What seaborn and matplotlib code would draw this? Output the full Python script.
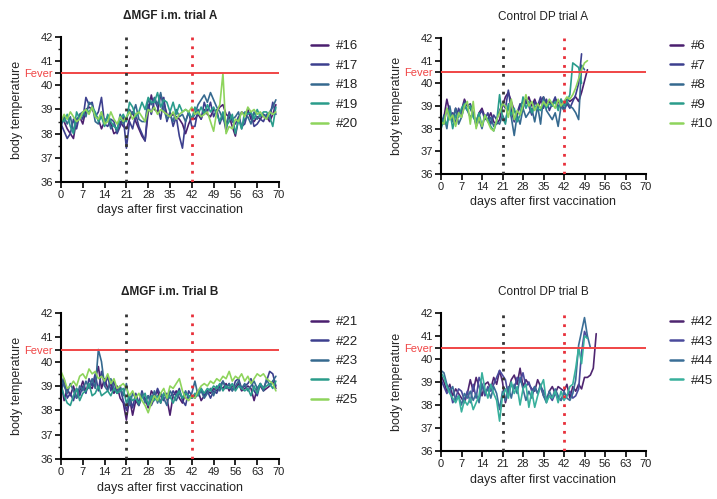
import numpy as np
import pandas as pd
import matplotlib
matplotlib.use("Agg")
import matplotlib.pyplot as plt
import seaborn as sns

# ---- data (daily body temperature) ----
# dMGF i.m. trial A, days 0-69
p16 = [38.7, 38.5, 38.2, 38.0, 37.8, 38.6, 38.7, 38.4, 39.0, 39.1,
       39.0, 38.8, 38.6, 38.2, 38.5, 38.7, 38.4, 38.0, 38.1, 38.5,
       38.3, 38.2, 38.6, 38.9, 38.5, 38.2, 37.9, 37.7, 38.9, 39.6,
       39.0, 38.9, 39.6, 39.3, 38.8, 38.7, 38.8, 38.7, 38.6, 38.4,
       38.0, 38.4, 38.7, 38.6, 38.8, 38.6, 39.0, 38.8, 38.7, 39.0,
       38.9, 39.1, 39.2, 38.8, 38.7, 38.3, 37.9, 38.6, 38.9, 38.8,
       39.0, 38.6, 38.5, 38.7, 38.6, 38.8, 38.7, 38.5, 38.8, 39.2]
p17 = [38.4, 38.1, 37.8, 38.0, 38.6, 38.2, 38.8, 38.6, 39.5, 39.2,
       39.3, 38.7, 38.9, 39.5, 38.4, 38.3, 38.6, 38.5, 38.0, 38.3,
       38.7, 37.4, 38.5, 38.2, 38.8, 38.3, 38.0, 37.7, 39.2, 38.8,
       39.4, 39.1, 38.6, 39.5, 38.5, 38.9, 38.3, 38.7, 37.9, 37.4,
       38.5, 38.9, 38.3, 38.3, 39.0, 38.6, 39.3, 38.9, 39.3, 38.7,
       39.0, 38.4, 38.8, 38.1, 38.9, 38.5, 38.4, 38.7, 38.3, 38.4,
       38.9, 38.8, 38.3, 38.4, 38.6, 38.5, 38.8, 38.6, 39.3, 38.8]
p18 = [38.3, 38.7, 38.4, 38.7, 38.1, 38.5, 38.8, 38.9, 38.7, 39.3,
       39.2, 38.5, 38.4, 38.9, 38.5, 38.7, 38.2, 38.4, 38.1, 38.8,
       38.4, 38.6, 39.0, 38.8, 39.2, 38.6, 38.5, 38.5, 39.4, 39.2,
       39.5, 39.2, 39.7, 39.0, 38.6, 38.8, 38.5, 39.0, 38.7, 38.8,
       38.5, 38.9, 38.6, 38.8, 39.2, 39.4, 39.6, 39.3, 39.7, 39.4,
       39.1, 38.9, 38.6, 38.4, 38.8, 38.6, 38.7, 38.9, 38.2, 38.6,
       38.7, 38.4, 38.9, 38.6, 38.8, 38.8, 38.7, 38.9, 39.1, 39.4]
p19 = [38.6, 38.5, 38.8, 38.3, 38.0, 38.9, 38.6, 38.8, 39.0, 38.9,
       39.1, 38.9, 38.5, 38.7, 38.3, 38.8, 38.5, 38.3, 38.2, 38.6,
       38.8, 38.5, 39.3, 39.1, 38.7, 38.9, 39.3, 39.0, 39.5, 39.3,
       39.3, 39.7, 39.1, 39.4, 39.3, 38.9, 39.3, 38.8, 39.2, 38.9,
       39.0, 38.9, 38.6, 39.1, 38.8, 39.1, 38.8, 39.2, 38.9, 39.1,
       38.8, 38.5, 38.9, 38.3, 38.5, 38.8, 38.0, 38.6, 38.2, 38.9,
       38.8, 38.9, 38.6, 39.0, 38.7, 38.9, 38.9, 38.7, 38.3, 39.1]
p20 = [38.5, 38.8, 38.6, 38.9, 38.7, 38.5, 38.6, 38.9, 39.0, 38.8,
       39.1, 38.7, 38.6, 38.9, 38.4, 38.5, 38.9, 38.6, 38.4, 38.7,
       38.5, 38.7, 38.9, 38.6, 38.8, 38.9, 38.7, 38.5, 39.0, 38.9,
       39.1, 38.8, 39.0, 38.9, 38.8, 38.7, 38.9, 38.6, 38.8, 38.9,
       39.0, 38.9, 39.1, 38.8, 38.9, 38.7, 38.8, 38.9, 38.5, 38.1,
       38.9, 39.2, 40.5, 38.0, 38.3, 38.2, 38.6, 38.5, 38.9, 38.7,
       39.1, 38.9, 39.0, 38.8, 38.9, 38.7, 38.6, 38.9, 38.8, 38.9]

# Control DP trial A
p6 = [38.3, 38.5, 39.3, 38.7, 38.4, 38.9, 38.6, 38.8, 39.3, 39.0,
      38.9, 38.6, 38.3, 38.7, 38.9, 38.5, 38.4, 38.7, 38.3, 38.2,
      38.4, 39.0, 39.4, 39.6, 39.2, 38.8, 38.6, 39.0, 39.2, 39.1,
      39.4, 39.0, 39.3, 38.9, 39.2, 39.4, 39.1, 39.2, 39.0, 39.3,
      39.2, 39.0, 39.1, 39.3, 39.2, 39.3, 39.4, 39.2, 39.6, 40.1,
      40.6]
p7 = [38.5, 38.2, 38.9, 38.4, 38.7, 38.2, 38.9, 38.6, 39.2, 39.0,
      39.1, 38.7, 38.2, 38.6, 38.8, 38.4, 38.7, 38.2, 38.6, 38.4,
      38.8, 39.1, 38.9, 39.7, 38.8, 38.3, 38.7, 39.1, 38.9, 39.3,
      39.0, 38.6, 39.2, 39.0, 39.4, 38.9, 39.3, 38.8, 39.1, 39.4,
      38.9, 39.3, 38.8, 39.1, 38.9, 39.2, 39.5, 40.0, 41.3]
p8 = [38.1, 38.6, 38.0, 39.0, 38.3, 38.9, 38.2, 38.5, 39.0, 38.8,
      38.5, 38.7, 38.1, 38.4, 38.0, 38.6, 38.3, 38.5, 38.1, 38.3,
      38.2, 38.6, 38.3, 39.0, 38.5, 37.7, 38.6, 38.2, 38.9, 38.5,
      38.7, 38.9, 38.3, 39.0, 38.2, 39.4, 38.8, 38.6, 38.4, 38.7,
      38.1, 39.0, 38.8, 39.2, 39.0, 38.9, 38.7, 38.4, 40.8, 40.6]
p9 = [38.0, 38.4, 38.2, 38.8, 38.0, 38.6, 38.5, 38.9, 39.1, 38.8,
      39.0, 38.5, 38.3, 38.7, 38.1, 38.6, 38.4, 38.1, 37.9, 38.3,
      39.5, 38.5, 38.2, 39.1, 38.6, 38.9, 38.3, 38.6, 39.4, 38.9,
      39.2, 38.7, 39.0, 38.9, 38.8, 39.2, 38.9, 39.1, 39.0, 39.2,
      38.8, 39.3, 39.0, 39.2, 39.5, 40.9, 40.8, 40.7, 40.0]
p10 = [38.3, 38.2, 38.9, 38.4, 38.6, 38.1, 38.7, 38.5, 39.0, 39.2,
       38.2, 39.2, 38.0, 38.5, 38.1, 38.6, 38.3, 38.0, 37.9, 38.4,
       38.7, 39.1, 39.0, 38.5, 39.3, 38.4, 38.8, 38.6, 39.0, 39.5,
       39.0, 39.2, 38.8, 39.1, 38.9, 39.2, 39.0, 39.3, 39.1, 38.9,
       39.3, 39.0, 39.2, 39.4, 39.3, 39.5, 39.8, 40.2, 40.6, 40.9,
       41.0]

# dMGF i.m. trial B
p21 = [39.2, 38.4, 38.9, 38.6, 39.0, 38.5, 38.8, 39.2, 38.8, 39.0,
       38.9, 39.3, 39.8, 38.9, 39.3, 38.9, 39.1, 38.7, 39.0, 38.5,
       38.3, 37.6, 38.5, 37.8, 38.4, 38.2, 38.6, 38.5, 38.1, 38.8,
       38.6, 38.8, 38.3, 38.7, 38.5, 37.8, 38.6, 38.8, 38.5, 38.3,
       38.7, 38.6, 38.5, 38.6, 38.8, 38.4, 38.6, 38.8, 38.7, 38.9,
       38.8, 39.0, 38.9, 39.1, 38.8, 39.0, 38.9, 39.1, 38.8, 38.9,
       39.0, 38.9, 38.4, 38.9, 39.0, 38.8, 38.9, 39.0, 39.2, 38.9]
p22 = [38.7, 39.3, 38.5, 38.7, 38.4, 38.9, 38.6, 39.0, 38.7, 39.3,
       39.0, 39.5, 38.8, 39.6, 39.0, 39.4, 38.8, 39.2, 38.7, 38.9,
       38.4, 38.0, 38.6, 38.1, 38.7, 38.3, 38.8, 38.4, 38.6, 38.2,
       38.5, 38.9, 38.6, 38.4, 38.7, 38.5, 38.8, 38.6, 38.9, 38.4,
       38.2, 38.8, 38.6, 38.5, 38.7, 38.9, 38.6, 38.8, 38.5, 38.8,
       38.7, 39.0, 39.2, 38.9, 39.1, 38.8, 39.2, 39.3, 38.9, 39.0,
       39.1, 39.3, 38.8, 38.6, 39.1, 38.9, 39.2, 39.6, 39.5, 39.0]
p23 = [39.4, 39.0, 38.7, 39.1, 38.8, 38.5, 39.0, 38.8, 39.2, 38.9,
       39.3, 38.9, 40.5, 40.0, 39.0, 38.8, 39.3, 38.9, 38.7, 39.0,
       38.6, 39.1, 38.2, 38.7, 38.5, 38.2, 38.7, 38.3, 38.6, 38.4,
       38.8, 38.3, 38.7, 38.5, 38.2, 38.8, 38.6, 38.4, 38.7, 38.5,
       38.8, 38.5, 38.7, 39.2, 38.6, 38.8, 38.5, 38.7, 38.9, 38.6,
       39.0, 38.8, 39.2, 38.9, 39.1, 38.8, 39.0, 39.2, 38.9, 39.1,
       38.8, 39.0, 39.2, 38.9, 39.1, 38.8, 39.3, 39.0, 39.2, 39.4]
p24 = [39.0, 38.6, 38.3, 38.2, 38.6, 38.9, 38.4, 38.7, 38.8, 39.1,
       38.6, 38.7, 39.0, 38.6, 38.7, 38.8, 38.6, 38.9, 38.7, 38.8,
       38.9, 38.3, 38.6, 38.4, 38.5, 38.3, 38.5, 38.7, 38.2, 38.6,
       38.4, 38.6, 38.3, 38.7, 38.5, 38.6, 38.3, 38.6, 38.8, 38.5,
       38.7, 38.6, 38.5, 38.7, 38.6, 38.9, 38.7, 38.9, 38.8, 39.0,
       38.9, 39.1, 38.8, 39.0, 38.9, 39.1, 38.8, 39.0, 38.9, 38.8,
       38.9, 38.6, 39.0, 38.7, 39.1, 38.9, 39.0, 39.1, 38.9, 39.2]
p25 = [39.6, 39.3, 38.9, 39.0, 39.2, 39.0, 39.4, 39.5, 39.3, 39.7,
       39.5, 39.6, 39.3, 39.4, 39.2, 39.5, 39.1, 39.3, 38.9, 39.0,
       39.1, 38.9, 38.6, 38.8, 38.5, 38.7, 38.4, 38.2, 37.9, 38.3,
       38.6, 38.4, 38.7, 38.9, 38.5, 39.0, 38.9, 39.1, 39.3, 38.8,
       38.5, 38.4, 38.6, 38.5, 38.8, 39.0, 39.1, 39.0, 39.2, 39.1,
       39.3, 39.2, 39.4, 39.3, 39.6, 39.2, 39.4, 39.3, 39.5, 39.2,
       39.4, 39.1, 39.3, 39.5, 39.4, 39.5, 39.3, 39.2, 39.1, 38.8]

# Control DP trial B
p42 = [39.3, 39.0, 38.6, 38.9, 38.4, 38.7, 38.5, 38.3, 38.1, 38.5,
       39.1, 38.6, 39.2, 38.8, 38.4, 38.9, 39.0, 38.7, 39.2, 38.9,
       39.5, 39.0, 38.1, 38.6, 39.1, 39.3, 38.9, 39.6, 38.8, 39.1,
       38.9, 38.7, 38.6, 39.1, 38.8, 38.4, 38.2, 38.6, 38.8, 38.5,
       38.8, 38.7, 38.6, 38.9, 38.3, 38.8, 38.6, 38.9, 38.7, 39.2,
       39.2, 39.3, 39.6, 41.1]
p43 = [39.1, 38.8, 38.5, 38.7, 38.1, 38.3, 38.7, 38.6, 38.2, 38.6,
       38.1, 38.9, 38.3, 39.2, 38.9, 38.4, 38.8, 38.6, 38.9, 39.2,
       39.5, 39.3, 39.1, 38.4, 38.9, 38.7, 39.2, 39.0, 39.4, 38.8,
       39.0, 38.6, 38.8, 38.5, 38.8, 38.6, 38.3, 38.4, 38.2, 38.5,
       38.3, 38.2, 38.5, 38.4, 38.6, 38.3, 38.4, 38.7, 40.3, 41.2,
       40.9]
p44 = [39.5, 39.4, 38.9, 38.6, 38.8, 38.2, 38.4, 38.0, 38.5, 38.3,
       38.6, 38.2, 38.5, 38.1, 38.9, 38.5, 38.7, 38.3, 38.8, 38.5,
       37.8, 38.6, 38.2, 38.8, 38.3, 38.9, 38.5, 39.2, 38.7, 38.2,
       38.6, 38.3, 38.8, 38.5, 38.9, 38.4, 38.1, 38.6, 38.3, 38.7,
       38.4, 38.2, 38.6, 38.3, 38.2, 38.5, 39.1, 40.6, 41.2, 41.8,
       41.0, 40.5]
p45 = [39.4, 39.2, 38.8, 38.5, 38.3, 38.1, 38.4, 37.7, 38.2, 38.0,
       38.3, 37.8, 38.1, 38.4, 39.4, 38.7, 38.3, 38.9, 38.5, 38.2,
       37.3, 38.4, 38.7, 38.3, 39.0, 38.5, 38.8, 38.0, 38.7, 38.9,
       37.9, 38.6, 37.9, 38.4, 38.8, 39.1, 38.1, 38.4, 38.3, 38.6,
       38.1, 38.6, 38.2, 38.4, 38.8, 38.9, 39.6, 40.5, 39.8, 41.0,
       40.9]

panels = [
    ("\u0394MGF i.m. trial A", ["#16", "#17", "#18", "#19", "#20"], [p16, p17, p18, p19, p20], True),
    ("Control DP trial A", ["#6", "#7", "#8", "#9", "#10"], [p6, p7, p8, p9, p10], False),
    ("\u0394MGF i.m. Trial B", ["#21", "#22", "#23", "#24", "#25"], [p21, p22, p23, p24, p25], True),
    ("Control DP trial B", ["#42", "#43", "#44", "#45"], [p42, p43, p44, p45], False),
]

pal5 = ["#4b1f6f", "#3c3f8e", "#35698f", "#2a9c8b", "#8ed45c"]
pal4 = ["#4e2570", "#4a4a9c", "#3a6e97", "#38b09c"]

sns.set_style("ticks")
plt.rcParams["font.family"] = ["Liberation Sans", "DejaVu Sans"]
plt.rcParams["text.color"] = "#222222"

fig = plt.figure(figsize=(7.17, 4.99), dpi=100)

W, H = 717.0, 499.0
# axes boxes in pixels: left, right, top, bottom
boxes = [(61, 279, 37, 182), (441, 646, 38, 174), (61, 279, 313, 459), (441, 646, 313, 451)]
leg_pos = [(311, 40), (670, 40), (311, 316), (670, 316)]

for i, (title, names, series, bold) in enumerate(panels):
    l, r, t, b = boxes[i]
    ax = fig.add_axes([l / W, 1 - b / H, (r - l) / W, (b - t) / H])
    rows = []
    for name, vals in zip(names, series):
        for d, v in enumerate(vals):
            rows.append((d, v, name))
    df = pd.DataFrame(rows, columns=["day", "temp", "pig"])
    pal = pal5 if len(names) == 5 else pal4
    sns.lineplot(data=df, x="day", y="temp", hue="pig", hue_order=names,
                 palette=pal, linewidth=1.2, ax=ax, legend=False, zorder=2)

    ax.axhline(40.5, color="#f04545", linewidth=1.4, zorder=3)
    ax.axvline(21, color="#333333", linestyle=(0, (1, 2.2)), linewidth=2, zorder=4)
    ax.axvline(42, color="#e8303a", linestyle=(0, (1, 2.2)), linewidth=2, zorder=4)

    ax.set_xlim(0, 70)
    ax.set_ylim(36, 42)
    ax.set_xticks(range(0, 71, 7))
    ax.set_yticks([36, 37, 38, 39, 40, 40.5, 41, 42])
    ax.set_yticklabels(["36", "37", "38", "39", "40", "Fever", "41", "42"])
    for lab in ax.get_yticklabels():
        if lab.get_text() == "Fever":
            lab.set_color("#f04545")
            lab.set_fontsize(7.5)
    ax.set_yticks(np.arange(36, 42.01, 0.5), minor=True)
    ax.tick_params(axis="both", labelsize=8, length=4, width=1.2, color="black",
                   labelcolor="#222222", pad=2)
    for lab in ax.get_yticklabels():
        if lab.get_text() == "Fever":
            lab.set_color("#f04545")
    ax.tick_params(axis="y", which="minor", length=2, width=1)
    for s in ["left", "bottom"]:
        ax.spines[s].set_linewidth(1.5)
        ax.spines[s].set_color("black")
    sns.despine(ax=ax)

    ax.set_xlabel("days after first vaccination", fontsize=9, labelpad=3)
    ax.set_ylabel("body temperature", fontsize=9, labelpad=0.5)
    ax.set_title(title, fontsize=8.5, fontweight="bold" if bold else "normal", pad=13)

    handles = [plt.Line2D([], [], color=c, linewidth=1.8) for c in pal]
    lx, ly = leg_pos[i]
    hl = 1.3 if i % 2 == 0 else 1.0
    ax.legend(handles, names, loc="upper left", bbox_to_anchor=(lx / W, 1 - ly / H),
              bbox_transform=fig.transFigure, frameon=False, fontsize=9.5,
              handlelength=hl, handletextpad=0.6, labelspacing=0.55,
              borderpad=0, borderaxespad=0)

fig.savefig("out.png", dpi=100)
